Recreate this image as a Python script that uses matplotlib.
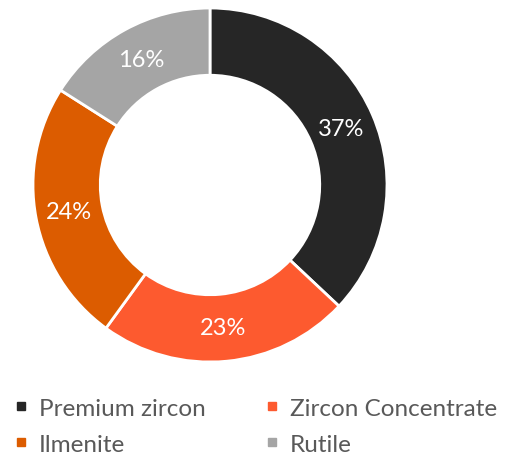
import matplotlib
matplotlib.use("Agg")
import matplotlib.pyplot as plt
from matplotlib.lines import Line2D
import numpy as np

categories = ["Premium zircon", "Zircon Concentrate", "Ilmenite", "Rutile"]
values = [37, 23, 24, 16]
colors = ["#262626", "#FD5A2F", "#DC5C00", "#A5A5A5"]

plt.rcParams['font.family'] = ['Lato', 'DejaVu Sans']

W, H = 524, 456
fig = plt.figure(figsize=(W / 100, H / 100), dpi=100)
cx, cy, R = 210, 186, 177
ax = fig.add_axes([(cx - R) / W, (H - cy - R) / H, 2 * R / W, 2 * R / H])

wedges, _ = ax.pie(values, colors=colors, startangle=90, counterclock=False,
                   radius=1, wedgeprops=dict(width=0.38, edgecolor="white", linewidth=2))
for v, w in zip(values, wedges):
    ang = np.deg2rad((w.theta1 + w.theta2) / 2)
    r = 0.81
    ax.text(r * np.cos(ang), r * np.sin(ang), f"{v}%", ha="center", va="center",
            color="white", fontsize=17)
ax.set_xlim(-1, 1)
ax.set_ylim(-1, 1)
ax.set_aspect("equal")
ax.axis("off")

order = [0, 2, 1, 3]
handles = [Line2D([], [], marker="s", linestyle="none", markersize=6,
                  markerfacecolor=colors[i], markeredgecolor=colors[i]) for i in order]
fig.legend(handles, [categories[i] for i in order], ncol=2,
           loc="upper left", bbox_to_anchor=(4 / W, 1 - 389 / H),
           frameon=False, fontsize=17.5, labelcolor="#595959",
           handlelength=0.6, handletextpad=0.45, columnspacing=2.4,
           labelspacing=0.62, borderaxespad=0)

fig.savefig("out.png", dpi=100)
